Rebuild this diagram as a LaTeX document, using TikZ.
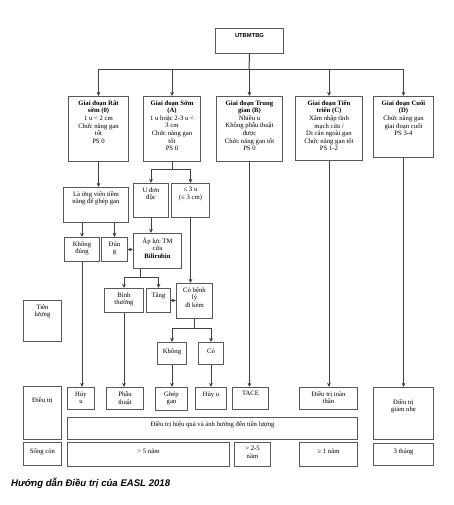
\documentclass[tikz,border=0pt]{standalone}
\usepackage{fontspec}
\setmainfont{Liberation Serif}
\newfontfamily\arialf{Liberation Sans}
\usetikzlibrary{arrows.meta}
\tikzset{
  box/.style={draw=black!65, line width=1pt, inner sep=0pt, anchor=north west},
  arr/.style={draw=black!75, line width=1pt, -{Stealth[length=4.2pt,width=3.8pt]}},
  ln/.style={draw=black!75, line width=1pt},
}
% \bx[padding]{name}{x1}{y1}{x2}{y2}{text}
\newcommand\bx[7][4]{\node[box] (#2) at (#3,#4) {\parbox[c][\dimexpr #6pt-#4pt\relax][t]{\dimexpr #5pt-#3pt\relax}{\centering\vspace*{#1pt}\fontsize{6.7}{7.6}\selectfont #7\par}};}
\begin{document}
\begin{tikzpicture}[x=1pt,y=-1pt]
\useasboundingbox (0,0) rectangle (453,505);
% top
\node[box] (top) at (215,28) {\parbox[c][25pt][t]{68pt}{\centering\vspace*{4.5pt}\arialf\bfseries\fontsize{5.8}{7}\selectfont UTBMTBG\par}};
% stages
\bx{s0}{68}{96}{128}{161}{\textbf{Giai đoạn Rất\\sớm (0)}\\1 u < 2 cm\\Chức năng gan\\tốt\\PS 0}
\bx{sA}{143}{96}{200}{161}{\textbf{Giai đoạn Sớm\\(A)}\\1 u hoặc 2-3 u <\\3 cm\\Chức năng gan\\tốt\\PS 0}
\bx{sB}{216}{96}{282}{161}{\textbf{Giai đoạn Trung\\gian (B)}\\Nhiều u\\Không phẫu thuật\\được\\Chức năng gan tốt\\PS 0}
\bx{sC}{295}{96}{362}{160}{\textbf{Giai đoạn Tiến\\triển (C)}\\Xâm nhập tĩnh\\mạch cửa /\\Di căn ngoài gan\\Chức năng gan tốt\\PS 1-2}
\bx{sD}{373}{96}{433}{157}{\textbf{Giai đoạn Cuối\\(D)}\\Chức năng gan\\giai đoạn cuối\\PS 3-4}
% middle
\bx{cand}{63}{187}{128}{222}{Là ứng viên tiềm\\năng để ghép gan}
\bx{ud}{133}{183}{168}{217}{U đơn\\độc}
\bx{le}{171}{183}{209}{217}{≤ 3 u\\(≤ 3 cm)}
\bx{kd}{64}{237}{99}{261}{Không\\đúng}
\bx{dung}{101}{237}{127}{261}{Đún\\g}
\bx{ap}{133}{233}{181}{268}{Áp lực TM\\cửa\\\textbf{Bilirubin}}
\bx{bt}{104}{288}{143}{312}{Bình\\thường}
\bx{tang}{146}{288}{170}{312}{Tăng}
\bx{cb}{176}{283}{212}{318}{Có bệnh\\lý\\đi kèm}
\bx{tl}{23}{300}{61}{341}{Tiên\\lượng}
\bx[6]{kh}{157}{342}{186}{364}{Không}
\bx[6]{co}{198}{342}{223}{364}{Có}
% treatment row
\bx[11]{dt}{23}{386}{61}{439}{Điều trị}
\bx{hu1}{67}{387}{94}{409}{Hủy\\u}
\bx{pt}{106}{387}{143}{409}{Phẫu\\thuật}
\bx{gg}{155}{387}{187}{410}{Ghép\\gan}
\bx{hu2}{195}{387}{226}{409}{Hủy u}
\bx{tace}{232}{387}{268}{409}{TACE}
\bx{tt}{299}{387}{357}{409}{Điều trị toàn\\thân}
\bx[12]{gn}{373}{387}{433}{439}{Điều trị\\giảm nhẹ}
\bx[4]{wide}{67}{417}{357}{439}{Điều trị hiệu quả và ảnh hưởng đến tiên lượng}
% survival row
\bx[6]{sc}{23}{442}{61}{465}{Sống còn}
\bx[6]{n5}{67}{442}{229}{466}{> 5 năm}
\bx[4]{n25}{234}{442}{270}{466}{> 2-5\\năm}
\bx[6]{n1}{299}{442}{357}{466}{≥ 1 năm}
\bx[5]{th}{373}{443}{433}{465}{3 tháng}
% caption
\node[anchor=west, inner sep=0pt, font=\arialf\bfseries\itshape\fontsize{9.6}{11}\selectfont] (cap) at (11,483) {Hướng dẫn Điều trị của EASL 2018};
% connectors
\coordinate (j1) at (249,70);
\draw[ln] (top.south) -- (j1);
\foreach \s in {s0,sA,sB,sC,sD} \draw[arr] (j1) -| (\s.north);
\draw[arr] (s0.south) -- (s0.south |- cand.north);
\coordinate (j2) at (sA.south |- 0,169);
\draw[ln] (sA.south) -- (j2);
\draw[arr] (j2) -| (ud.north);
\draw[arr] (j2) -| (le.north);
\draw[arr] (kd.north |- cand.south) -- (kd.north);
\draw[arr] (dung.north |- cand.south) -- (dung.north);
\draw[arr] (dung.east) -- (dung.east -| ap.west);
\draw[arr] (ud.south) -- (ud.south |- ap.north);
\coordinate (j3) at (140,277);
\draw[ln] (j3 |- ap.south) -- (j3);
\draw[arr] (j3) -| (bt.north);
\draw[arr] (j3) -| (tang.north);
\draw[arr] (tang.east) -- (tang.east -| cb.west);
\draw[arr] (le.south) -- (le.south |- cb.north);
\coordinate (j4) at (cb.south |- 0,328);
\draw[ln] (cb.south) -- (j4);
\draw[arr] (j4) -| (kh.north);
\draw[arr] (j4) -| (co.north);
\draw[arr] (kd.south) -- (kd.south |- hu1.north);
\draw[arr] (bt.south) -- (bt.south |- pt.north);
\draw[arr] (kh.south) -- (kh.south |- gg.north);
\draw[arr] (co.south) -- (co.south |- hu2.north);
\draw[arr] (sB.south) -- (sB.south |- tace.north);
\draw[arr] (sC.south) -- (sC.south |- tt.north);
\draw[arr] (sD.south) -- (sD.south |- gn.north);
\end{tikzpicture}
\end{document}
